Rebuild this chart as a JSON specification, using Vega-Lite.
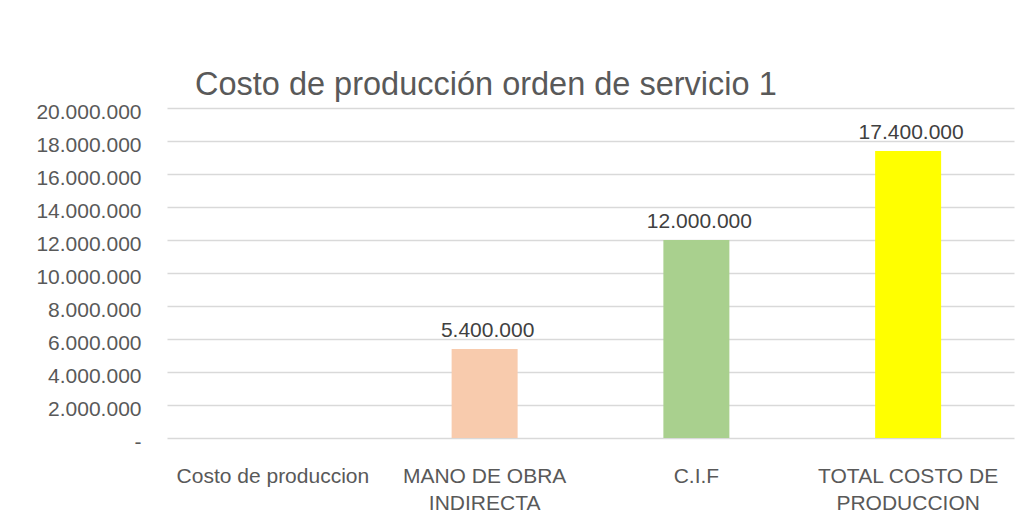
{
  "$schema": "https://vega.github.io/schema/vega-lite/v6.json",
  "width": 847,
  "height": 330,
  "autosize": "none",
  "padding": {"left": 167, "top": 108, "right": 17, "bottom": 81},
  "background": "white",
  "config": {
    "locale": {"number": {"decimal": ",", "thousands": ".", "grouping": [3], "currency": ["$", ""]}},
    "view": {"stroke": null},
    "font": "Liberation Sans"
  },
  "title": {
    "text": "Costo de producción orden de servicio 1",
    "anchor": "start",
    "frame": "group",
    "dx": 28,
    "dy": 42,
    "fontSize": 32.5,
    "fontWeight": "normal",
    "color": "#595959",
    "font": "Liberation Sans",
    "baseline": "alphabetic",
    "offset": 16
  },
  "data": {
    "values": [
      {"categoria": "Costo de produccion", "valor": 0},
      {"categoria": "MANO DE OBRA INDIRECTA", "valor": 5400000},
      {"categoria": "C.I.F", "valor": 12000000},
      {"categoria": "TOTAL COSTO DE PRODUCCION", "valor": 17400000}
    ]
  },
  "encoding": {
    "x": {
      "field": "categoria",
      "type": "nominal",
      "sort": null,
      "scale": {"paddingInner": 0, "paddingOuter": 0},
      "axis": {
        "title": null,
        "labelAngle": 0,
        "ticks": false,
        "domain": false,
        "grid": false,
        "labelPadding": 27,
        "labelFontSize": 21,
        "labelColor": "#595959",
        "labelLineHeight": 27.7,
        "labelBaseline": "top",
        "labelLimit": 400,
        "labelExpr": "datum.value == 'MANO DE OBRA INDIRECTA' ? ['MANO DE OBRA', 'INDIRECTA'] : datum.value == 'TOTAL COSTO DE PRODUCCION' ? ['TOTAL COSTO DE', 'PRODUCCION'] : datum.value"
      }
    },
    "y": {
      "field": "valor",
      "type": "quantitative",
      "scale": {"domain": [0, 20000000], "nice": false},
      "axis": {
        "title": null,
        "values": [0, 2000000, 4000000, 6000000, 8000000, 10000000, 12000000, 14000000, 16000000, 18000000, 20000000],
        "format": ",.0f",
        "labelExpr": "datum.value == 0 ? '-' : datum.label",
        "grid": true,
        "gridColor": "#d9d9d9",
        "gridWidth": 1.5,
        "domain": false,
        "ticks": false,
        "labelPadding": 26,
        "labelOffset": 4,
        "labelFontSize": 21,
        "labelColor": "#595959"
      }
    }
  },
  "layer": [
    {
      "mark": {"type": "bar", "width": 66},
      "encoding": {
        "color": {
          "field": "categoria",
          "type": "nominal",
          "scale": {
            "domain": ["Costo de produccion", "MANO DE OBRA INDIRECTA", "C.I.F", "TOTAL COSTO DE PRODUCCION"],
            "range": ["#5b9bd5", "#f8cbad", "#a9d08e", "#ffff00"]
          },
          "legend": null
        }
      }
    },
    {
      "transform": [{"filter": "datum.valor > 0"}],
      "mark": {"type": "text", "dy": -12, "dx": 3, "baseline": "alphabetic", "fontSize": 21, "color": "#404040"},
      "encoding": {"text": {"field": "valor", "type": "quantitative", "format": ",.0f"}}
    }
  ]
}
